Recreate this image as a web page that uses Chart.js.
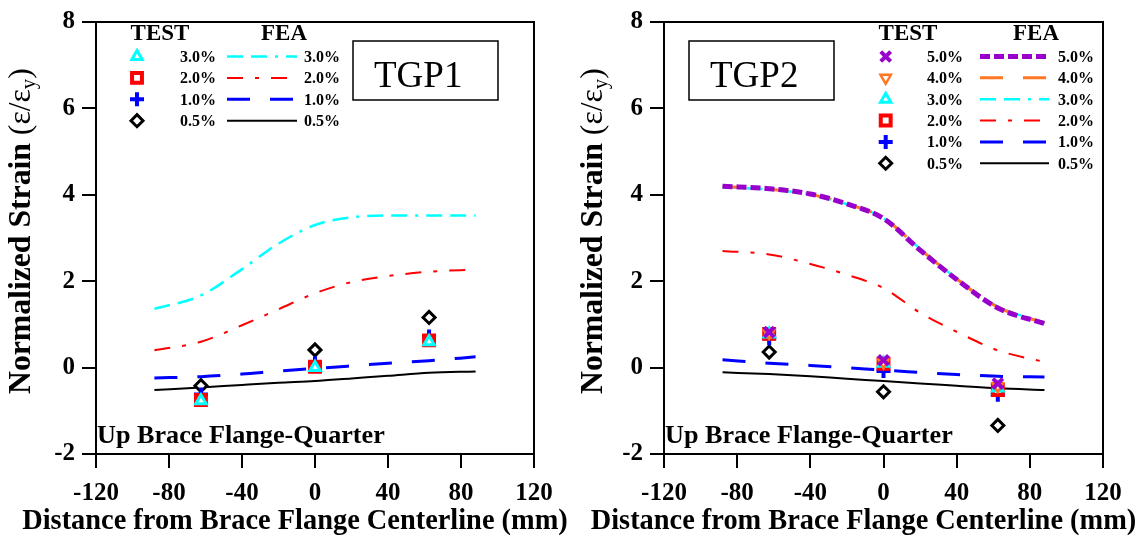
<!DOCTYPE html>
<html>
<head>
<meta charset="utf-8">
<script src="https://cdn.jsdelivr.net/npm/chart.js@4.4.0/dist/chart.umd.min.js"></script>
<style>
  html, body { margin: 0; padding: 0; background: #fff; }
  #wrap { position: relative; width: 1145px; height: 538px; }
  .panel { position: absolute; top: 0; height: 538px; }
  #p1 { left: 0; width: 572px; }
  #p2 { left: 572px; width: 573px; }
</style>
</head>
<body>
<div id="wrap">
  <div class="panel" id="p1"><canvas id="c1"></canvas></div>
  <div class="panel" id="p2"><canvas id="c2"></canvas></div>
</div>
<script>
// ---- data ----
const xTicks = [-120, -80, -40, 0, 40, 80, 120];
const yTicks = [-2, 0, 2, 4, 6, 8];
const feaX = [-88, -62.5, -40, -20, 0, 20, 40, 62.5, 88];
const testX = [-62.5, 0, 62.5];

// TGP1
const tgp1Levels = ['3.0%', '2.0%', '1.0%', '0.5%'];
const tgp1Fea30 = [1.36, 1.67, 2.28, 2.87, 3.30, 3.48, 3.52, 3.52, 3.52];
const tgp1Fea20 = [0.40, 0.60, 0.98, 1.35, 1.72, 1.98, 2.12, 2.22, 2.27];
const tgp1Fea10 = [-0.24, -0.21, -0.15, -0.08, -0.02, 0.04, 0.10, 0.16, 0.25];
const tgp1Fea05 = [-0.52, -0.46, -0.40, -0.35, -0.31, -0.25, -0.19, -0.12, -0.09];
const tgp1Test30 = [-0.77, 0.00, 0.60];
const tgp1Test20 = [-0.75, 0.02, 0.63];
const tgp1Test10 = [-0.62, 0.10, 0.72];
const tgp1Test05 = [-0.42, 0.41, 1.16];

// TGP2
const tgp2Levels = ['5.0%', '4.0%', '3.0%', '2.0%', '1.0%', '0.5%'];
const tgp2Fea50 = [4.20, 4.14, 4.02, 3.79, 3.45, 2.72, 2.04, 1.38, 1.02];
const tgp2Fea40 = [4.19, 4.13, 4.01, 3.79, 3.46, 2.74, 2.05, 1.40, 1.03];
const tgp2Fea30 = [4.18, 4.12, 4.01, 3.78, 3.46, 2.75, 2.06, 1.41, 1.04];
const tgp2Fea20 = [2.70, 2.62, 2.40, 2.15, 1.84, 1.27, 0.83, 0.40, 0.13];
const tgp2Fea10 = [0.18, 0.10, 0.05, 0.00, -0.06, -0.11, -0.16, -0.20, -0.22];
const tgp2Fea05 = [-0.11, -0.15, -0.20, -0.26, -0.31, -0.37, -0.42, -0.48, -0.52];
const tgp2Test50 = [0.82, 0.17, -0.37];
const tgp2Test40 = [0.80, 0.12, -0.43];
const tgp2Test30 = [0.78, 0.10, -0.47];
const tgp2Test20 = [0.78, 0.09, -0.52];
const tgp2Test10 = [0.68, -0.08, -0.63];
const tgp2Test05 = [0.36, -0.56, -1.34];

// ---- styles ----
const SERIF = "'Liberation Serif', 'Times New Roman', serif";
const X_TITLE = 'Distance from Brace Flange Centerline (mm)';
const NOTE = 'Up Brace Flange-Quarter';
const styles = {
  '5.0%': { color: '#9900cc', point: 'crossRot', radius: 7, bw: 4, rot: 0, dash: [10, 4], lw: 5 },
  '4.0%': { color: '#ff7722', point: 'triangle', radius: 6, bw: 2.5, rot: 180, dash: [23, 20], lw: 3 },
  '3.0%': { color: '#00ffff', point: 'triangle', radius: 6, bw: 3, rot: 0, dash: [16, 8, 16, 8, 3, 8], lw: 2.5 },
  '2.0%': { color: '#ff0000', point: 'rect', radius: 7, bw: 4, rot: 0, dash: [16, 12, 4, 12], lw: 2 },
  '1.0%': { color: '#0000ff', point: 'cross', radius: 7, bw: 4, rot: 0, dash: [23, 20], lw: 3 },
  '0.5%': { color: '#000000', point: 'rectRot', radius: 6, bw: 3, rot: 0, dash: [], lw: 2 },
};

const pts = (xs, ys) => xs.map((x, i) => ({ x, y: ys[i] }));

function buildDatasets(levels, fea, test) {
  const lines = levels.map((lv, i) => {
    const s = styles[lv];
    return {
      label: 'FEA ' + lv, data: pts(feaX, fea[i]), order: 100 + i,
      borderColor: s.color, borderWidth: s.lw, borderDash: s.dash,
      pointRadius: 0, fill: false, cubicInterpolationMode: 'monotone',
    };
  });
  const marks = levels.map((lv, i) => {
    const s = styles[lv];
    return {
      label: 'TEST ' + lv, data: pts(testX, test[i]), order: i, showLine: false,
      pointStyle: s.point, pointRadius: s.radius, pointHoverRadius: s.radius,
      pointBorderWidth: s.bw, pointBorderColor: s.color, pointBackgroundColor: '#fff',
      pointRotation: s.rot,
    };
  });
  return lines.concat(marks);
}

// font size so that a run of text spans the given width
function fitSize(ctx, text, weight, width) {
  ctx.font = `${weight} 100px ${SERIF}`;
  return 100 * width / ctx.measureText(text).width;
}

// ---- decorations: frame, box label, legend, titles ----
const decor = {
  id: 'decor',
  afterDraw(chart, args, o) {
    const ctx = chart.ctx, a = chart.chartArea;
    ctx.save();
    ctx.strokeStyle = '#000'; ctx.fillStyle = '#000';
    ctx.lineWidth = 2;
    ctx.strokeRect(a.left, a.top, a.right - a.left, a.bottom - a.top);

    // name box
    ctx.lineWidth = 1.5;
    ctx.strokeRect(o.box[0], o.box[1], o.box[2], o.box[3]);
    ctx.font = `37px ${SERIF}`;
    ctx.textAlign = 'left'; ctx.textBaseline = 'alphabetic';
    ctx.fillText(o.name, o.box[0] + 21, o.box[1] + 46);

    // note
    ctx.font = `bold ${fitSize(ctx, NOTE, 'bold', 288)}px ${SERIF}`;
    ctx.fillText(NOTE, a.left + 1, 443);

    // x title
    ctx.font = `bold ${fitSize(ctx, X_TITLE, 'bold', 546)}px ${SERIF}`;
    ctx.textAlign = 'center';
    ctx.fillText(X_TITLE, o.xTitleX, 529);

    // y title with subscript
    ctx.save();
    ctx.translate(21, 231);
    ctx.rotate(-Math.PI / 2);
    const parts = [
      ['Normalized Strain ', 'bold', 1, 0],
      ['(\u03b5/\u03b5', 'normal', 1, 0],
      ['y', 'normal', 0.66, 0.17],
      [')', 'normal', 1, 0],
    ];
    let unit = 0;
    parts.forEach(p => { ctx.font = `${p[1]} ${100 * p[2]}px ${SERIF}`; unit += ctx.measureText(p[0]).width; });
    const fs = 100 * 326 / unit;
    let cx = -163;
    ctx.textAlign = 'left';
    parts.forEach(p => {
      ctx.font = `${p[1]} ${fs * p[2]}px ${SERIF}`;
      ctx.fillText(p[0], cx, 9 + p[3] * fs);
      cx += ctx.measureText(p[0]).width;
    });
    ctx.restore();

    // legend
    const L = o.legend;
    ctx.font = `bold 23px ${SERIF}`;
    ctx.textAlign = 'center';
    ctx.fillText('TEST', L.testX, 40);
    ctx.fillText('FEA', L.feaX, 40);
    L.levels.forEach((lv, i) => {
      const s = styles[lv];
      const y = L.y0 + i * L.dy;
      ctx.setLineDash([]);
      ctx.strokeStyle = s.color; ctx.fillStyle = '#fff'; ctx.lineWidth = s.bw;
      Chart.helpers.drawPoint(ctx, { pointStyle: s.point, radius: s.radius, rotation: s.rot, borderWidth: s.bw }, L.mark, y);
      ctx.fillStyle = '#000';
      ctx.font = `bold 16px ${SERIF}`;
      ctx.textAlign = 'right';
      ctx.fillText(lv, L.lab1, y + 5.5);
      ctx.textAlign = 'left';
      ctx.fillText(lv, L.lab2, y + 5.5);
      ctx.strokeStyle = s.color; ctx.lineWidth = s.lw;
      ctx.setLineDash(s.dash);
      ctx.beginPath(); ctx.moveTo(L.line0, y); ctx.lineTo(L.line1, y); ctx.stroke();
    });
    ctx.restore();
  }
};

function makeChart(id, datasets, yWidth, rightPad, decorOpts) {
  const tickFont = { family: SERIF, size: 25, weight: 'bold' };
  const axisGrid = { drawOnChartArea: false, drawTicks: true, tickLength: 14, color: '#000', lineWidth: 2 };
  return new Chart(document.getElementById(id), {
    type: 'line',
    data: { datasets },
    options: {
      responsive: true, maintainAspectRatio: false, animation: false,
      layout: { padding: { top: 17, right: rightPad, left: 0, bottom: 0 } },
      scales: {
        x: {
          type: 'linear', min: -120, max: 120,
          afterBuildTicks: s => { s.ticks = xTicks.map(v => ({ value: v })); },
          afterFit: s => { s.height = 84; },
          ticks: { color: '#000', font: tickFont, padding: 11, maxRotation: 0 },
          grid: axisGrid, border: { color: '#000', width: 2 },
        },
        y: {
          min: -2, max: 8,
          afterBuildTicks: s => { s.ticks = yTicks.map(v => ({ value: v })); },
          afterFit: s => { s.width = yWidth; },
          ticks: { color: '#000', font: tickFont, padding: 7 },
          grid: axisGrid, border: { color: '#000', width: 2 },
        },
      },
      plugins: { legend: { display: false }, tooltip: { enabled: false }, decor: decorOpts },
    },
    plugins: [decor],
  });
}

makeChart('c1',
  buildDatasets(tgp1Levels,
    [tgp1Fea30, tgp1Fea20, tgp1Fea10, tgp1Fea05],
    [tgp1Test30, tgp1Test20, tgp1Test10, tgp1Test05]),
  96, 38,
  {
    name: 'TGP1', box: [353, 41, 145, 59], xTitleX: 295,
    legend: { levels: tgp1Levels, testX: 160, feaX: 284, y0: 56.5, dy: 21.4,
              mark: 137, lab1: 216, line0: 227, line1: 297, lab2: 304 },
  });

makeChart('c2',
  buildDatasets(tgp2Levels,
    [tgp2Fea50, tgp2Fea40, tgp2Fea30, tgp2Fea20, tgp2Fea10, tgp2Fea05],
    [tgp2Test50, tgp2Test40, tgp2Test30, tgp2Test20, tgp2Test10, tgp2Test05]),
  92, 42,
  {
    name: 'TGP2', box: [117, 41, 145, 59], xTitleX: 291.5,
    legend: { levels: tgp2Levels, testX: 336, feaX: 464, y0: 56.5, dy: 21.35,
              mark: 313.7, lab1: 391, line0: 408, line1: 477, lab2: 486 },
  });
</script>
</body>
</html>
